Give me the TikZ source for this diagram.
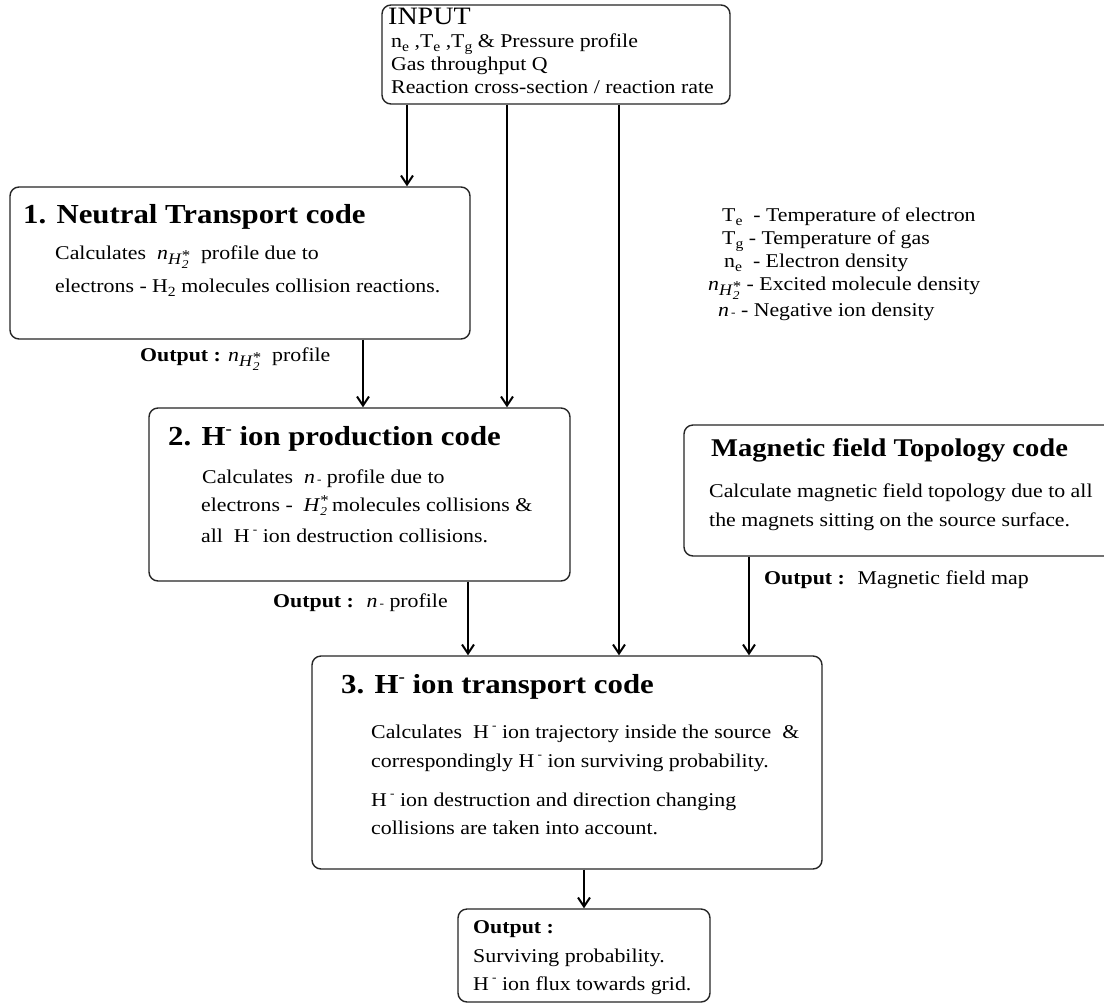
\documentclass[tikz,border=0pt]{standalone}
\usepackage{fontspec}
\setmainfont{Liberation Serif}[FakeStretch=1.12]
\usetikzlibrary{arrows.meta}

% font size helper (1pt = 1 unit of the drawing)
\newcommand\fs[1]{\fontsize{#1}{#1}\selectfont}
% upright lowered index, as in n_e, T_e
\newcommand\lo[1]{\raisebox{-0.45ex}{\fs{14}#1}}
% italic H_2^* with stacked index and star
\newcommand\Hst{\textit{H}\rlap{\raisebox{-0.45ex}{\fs{12}\textit{2}}}\raisebox{0.6ex}{\fs{15}*}}
% density of excited molecules
\newcommand\nH{\textit{n}\raisebox{-0.65ex}{\fs{16}\Hst}}
% negative ion density
\newcommand\nm{\textit{n}\raisebox{-0.1ex}{\fs{12}\,-}}
% H minus in running text and in titles
\newcommand\Hm{H\,\raisebox{0.9ex}{\fs{12}-}}
\newcommand\Hmb{H\raisebox{0.85ex}{\fs{17}-}}

\begin{document}
\begin{tikzpicture}[x=1pt,y=-1pt,
  box/.style={draw=black!85, line width=1.4pt, rounded corners=9pt, inner sep=0pt},
  txt/.style={anchor=base west, inner sep=0pt, font=\fs{19.5}},
  ttl/.style={anchor=base west, inner sep=0pt, font=\fs{27.5}\bfseries},
  arr/.style={line width=2.5pt, -{Straight Barb[length=9pt,width=12pt,line width=2pt]}}]
\useasboundingbox (0,0) rectangle (1104,1005);
\clip (0,0) rectangle (1104,1005);
\fill[white] (0,0) rectangle (1104,1005);

% ---- boxes
\node[box, minimum width=348pt, minimum height=99pt]  (input) at (556,54.5) {};
\node[box, minimum width=460pt, minimum height=152pt] (b1)    at (240,263) {};
\node[box, minimum width=421pt, minimum height=173pt] (b2)    at (359.5,494.5) {};
\node[box, minimum width=436pt, minimum height=131pt] (mag)   at (902,490.5) {};
\node[box, minimum width=510pt, minimum height=213pt] (b3)    at (567,762.5) {};
\node[box, minimum width=252pt, minimum height=93pt]  (out)   at (584,955.5) {};

% ---- input
\node[txt, font=\fs{25}] (inT) at (388,24) {INPUT};
\node[txt] (in1) at (391,47) {n\lo{e} ,T\lo{e} ,T\lo{g} \& Pressure profile};
\node[txt] (in2) at (391,70) {Gas throughput Q};
\node[txt] (in3) at (391,93) {Reaction cross-section / reaction rate};

% ---- neutral transport
\node[ttl] (t1) at (23,223) {1. Neutral Transport code};
\node[txt] (t1a) at (55,259) {Calculates \ \nH \ \ profile due to};
\node[txt] (t1b) at (55,292) {electrons - H\lo{2} molecules collision reactions.};
\node[txt] (o1) at (140,361) {\textbf{Output :} \nH \ \ profile};

% ---- negative ion production
\node[ttl] (t2) at (168,445) {2. \Hmb{} ion production code};
\node[txt] (t2a) at (202,483) {Calculates \ \nm \ profile due to};
\node[txt] (t2b) at (201,511) {electrons - \ \Hst\,molecules collisions \&};
\node[txt] (t2c) at (201,542) {all \ \Hm \ ion destruction collisions.};
\node[txt] (o2) at (273,607) {\textbf{Output :} \ \nm \ profile};

% ---- magnetic field
\node[ttl, font=\fs{25.5}\bfseries] (tm) at (711,456) {Magnetic field Topology code};
\node[txt] (tma) at (709,497) {Calculate magnetic field topology due to all};
\node[txt] (tmb) at (709,526) {the magnets sitting on the source surface.};
\node[txt] (om) at (764,584) {\textbf{Output :} \ Magnetic field map};

% ---- negative ion transport
\node[ttl] (t3) at (341,693) {3. \Hmb{} ion transport code};
\node[txt] (t3a) at (371,738) {Calculates \ \Hm \ ion trajectory inside the source \ \&};
\node[txt] (t3b) at (371,767) {correspondingly \Hm \ ion surviving probability.};
\node[txt] (t3c) at (371,806) {\Hm \ ion destruction and direction changing};
\node[txt] (t3d) at (371,834) {collisions are taken into account.};

% ---- final output
\node[txt] (to) at (473,933) {\textbf{Output :}};
\node[txt] (toa) at (473,962) {Surviving probability.};
\node[txt] (tob) at (473,990) {\Hm \ ion flux towards grid.};

% ---- legend
\node[txt] (l1) at (722,221) {T\lo{e} \ - Temperature of electron};
\node[txt] (l2) at (722,244) {T\lo{g} - Temperature of gas};
\node[txt] (l3) at (724,267) {n\lo{e} \ - Electron density};
\node[txt] (l4) at (708,290) {\nH\ - Excited molecule density};
\node[txt] (l5) at (718,316) {\nm \ - Negative ion density};

% ---- connectors
\coordinate (xa) at (407,0);
\coordinate (xb) at (507,0);
\coordinate (xc) at (619,0);
\coordinate (xd) at (363,0);
\coordinate (xe) at (468,0);
\coordinate (xf) at (749,0);
\coordinate (xg) at (584,0);
\draw[arr] (xa |- input.south) -- (xa |- b1.north);
\draw[arr] (xb |- input.south) -- (xb |- b2.north);
\draw[arr] (xc |- input.south) -- (xc |- b3.north);
\draw[arr] (xd |- b1.south) -- (xd |- b2.north);
\draw[arr] (xe |- b2.south) -- (xe |- b3.north);
\draw[arr] (xf |- mag.south) -- (xf |- b3.north);
\draw[arr] (xg |- b3.south) -- (xg |- out.north);
\end{tikzpicture}
\end{document}
